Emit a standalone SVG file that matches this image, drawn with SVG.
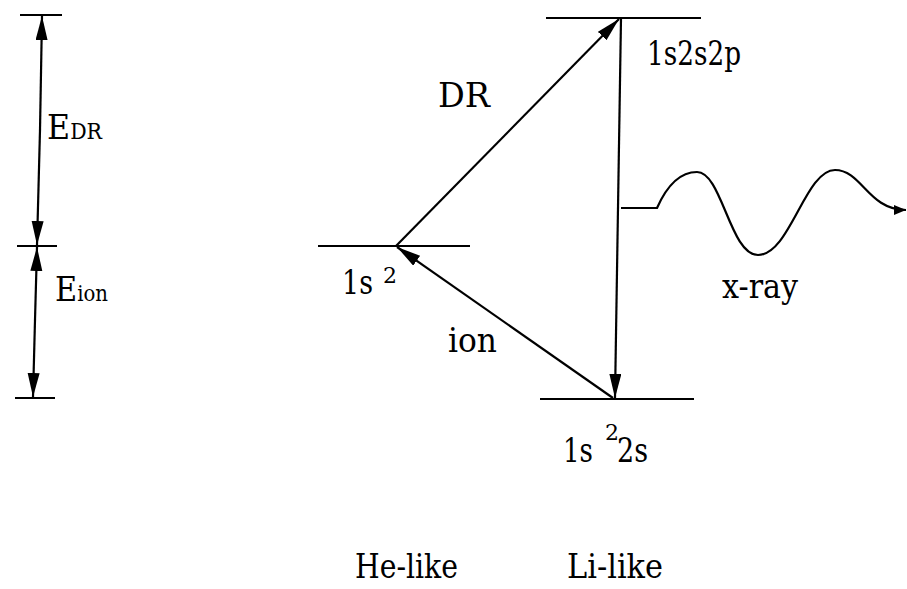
<svg xmlns="http://www.w3.org/2000/svg" width="907" height="589" viewBox="0 0 907 589">
<style>
text{font-family:"DejaVu Serif",serif;font-size:34px;fill:#000}
.s{font-size:22px}
.lv{stroke:#000;stroke-width:2.2;fill:none}
.ar{stroke:#000;stroke-width:2.2;fill:none}
</style>
<defs>
<marker id="ah" markerUnits="userSpaceOnUse" markerWidth="26" markerHeight="14" refX="24" refY="6" orient="auto">
<path d="M0,0 L24,6 L0,12 z" fill="#000"/>
</marker>
<marker id="ahs" markerUnits="userSpaceOnUse" markerWidth="14" markerHeight="12" refX="12" refY="5" orient="auto">
<path d="M0,0 L12,5 L0,10 z" fill="#000"/>
</marker>
</defs>
<g id="scale">
<line class="lv" x1="20" y1="15" x2="62" y2="15"/>
<line class="lv" x1="17" y1="246" x2="57" y2="246"/>
<line class="lv" x1="15" y1="398" x2="55" y2="398"/>
<line class="ar" x1="40" y1="130" x2="42" y2="16" marker-end="url(#ah)"/>
<line class="ar" x1="40" y1="130" x2="37" y2="245" marker-end="url(#ah)"/>
<line class="ar" x1="35" y1="320" x2="37" y2="247" marker-end="url(#ah)"/>
<line class="ar" x1="35" y1="320" x2="33" y2="397" marker-end="url(#ah)"/>
<text x="47" y="139" textLength="55" lengthAdjust="spacingAndGlyphs">E<tspan class="s">DR</tspan></text>
<text x="55" y="301" textLength="53" lengthAdjust="spacingAndGlyphs">E<tspan class="s">ion</tspan></text>
</g>
<g id="level-1s2">
<line class="lv" x1="318" y1="246" x2="470" y2="246"/>
<text x="342" y="294" textLength="31" lengthAdjust="spacingAndGlyphs">1s</text>
<text class="s" x="383" y="283">2</text>
</g>
<g id="level-1s2s2p">
<line class="lv" x1="546" y1="18" x2="701" y2="18"/>
<text x="647" y="65" textLength="94" lengthAdjust="spacingAndGlyphs">1s2s2p</text>
</g>
<g id="level-1s22s">
<line class="lv" x1="540" y1="399" x2="694" y2="399"/>
<text x="563" y="462" textLength="30" lengthAdjust="spacingAndGlyphs">1s</text>
<text class="s" x="605" y="440">2</text>
<text x="617" y="462" textLength="31" lengthAdjust="spacingAndGlyphs">2s</text>
</g>
<g id="connectors">
<line class="ar" x1="396" y1="246" x2="619" y2="19" marker-end="url(#ah)"/>
<line class="ar" x1="621" y1="18" x2="615" y2="398" marker-end="url(#ah)"/>
<line class="ar" x1="613" y1="398" x2="397" y2="247" marker-end="url(#ah)"/>
<path class="ar" d="M621,208 H657 C665,190 678,172 697,172 C722,172 730,255 758,255 C790,255 805,170 835,170 C862,170 868,210 906,210" marker-end="url(#ahs)"/>
</g>
<g id="labels">
<text x="438" y="107" textLength="52" lengthAdjust="spacingAndGlyphs">DR</text>
<text x="448" y="352" textLength="49" lengthAdjust="spacingAndGlyphs">ion</text>
<text x="722" y="298" textLength="76" lengthAdjust="spacingAndGlyphs">x-ray</text>
<text x="355" y="578" textLength="103" lengthAdjust="spacingAndGlyphs">He-like</text>
<text x="567" y="578" textLength="96" lengthAdjust="spacingAndGlyphs">Li-like</text>
</g>
</svg>
